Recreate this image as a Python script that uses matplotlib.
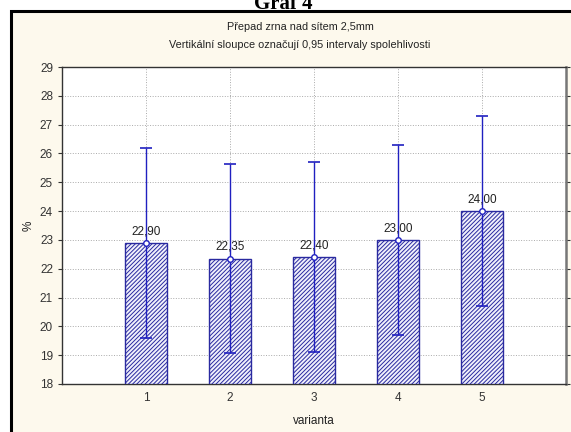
import matplotlib
matplotlib.use("Agg")
import matplotlib.pyplot as plt
from matplotlib.patches import Rectangle
import numpy as np

categories = [1, 2, 3, 4, 5]
means = [22.90, 22.35, 22.40, 23.00, 24.00]
ci_low = [19.6, 19.07, 19.1, 19.7, 20.7]
ci_high = [26.2, 25.65, 25.7, 26.3, 27.3]
yticks = list(range(18, 30))

plt.rcParams['font.family'] = ['Liberation Sans', 'DejaVu Sans']
plt.rcParams['hatch.color'] = '#2a2aa0'
plt.rcParams['hatch.linewidth'] = 0.7

W, H = 571, 432
fig = plt.figure(figsize=(W / 100, H / 100), dpi=100, facecolor='white')

# cream panel with black frame
fig.patches.append(Rectangle((11 / W, -0.1), 1.2, 1 - 11 / H + 0.1, transform=fig.transFigure,
                             facecolor='#fdf9ed', edgecolor='black', linewidth=2.2, zorder=-5))

fig.text(283 / W, 1 - 9 / H, 'Graf 4', ha='center', va='baseline', fontsize=15,
         fontweight='bold', family=['Liberation Serif', 'DejaVu Serif'])
fig.text(300 / W, 1 - 27 / H, 'Přepad zrna nad sítem 2,5mm', ha='center', va='center',
         fontsize=7.8, color='#222222')
fig.text(300 / W, 1 - 45 / H, 'Vertikální sloupce označují 0,95 intervaly spolehlivosti',
         ha='center', va='center', fontsize=7.8, color='#222222')

ax = fig.add_axes([62 / W, 1 - 384 / H, (566 - 62) / W, (384 - 67) / H], zorder=2)
ax.set_facecolor('white')

x = np.array(categories, dtype=float)
m = np.array(means)
ax.bar(x, m - 18, bottom=18, width=0.5, facecolor='#f0f0fb', edgecolor='#2a2aa0',
       hatch='////////', linewidth=1.0, zorder=3)
ax.errorbar(x, m, yerr=[m - np.array(ci_low), np.array(ci_high) - m], fmt='none',
            ecolor='#2020c0', elinewidth=1.0, capsize=4.5, capthick=1.2, zorder=4)
ax.plot(x, m, 'o', ms=4, mfc='white', mec='#2020c0', mew=1.0, zorder=5, ls='none')
for xi, mi in zip(x, m):
    ax.text(xi, mi + 0.2, f'{mi:.2f}'.replace('.', ','), ha='center', va='bottom',
            fontsize=8.5, color='#222222', zorder=6)

ax.set_xlim(0, 6)
ax.set_ylim(18, 29)
ax.set_xticks(categories)
ax.set_yticks(yticks)
ax.tick_params(axis='both', labelsize=8.5, colors='#333333', length=3, width=0.8)
ax.tick_params(axis='y', right=True, direction='out')
ax.tick_params(axis='x', length=0, pad=6)
ax.grid(True, color='#aaaaaa', linestyle=':', linewidth=0.7, zorder=0)
ax.set_axisbelow(True)
for s in ['left', 'bottom', 'top']:
    ax.spines[s].set_color('#333333')
    ax.spines[s].set_linewidth(1.0)
ax.spines['right'].set_color('#777777')
ax.spines['right'].set_linewidth(1.8)
ax.set_xlabel('varianta', fontsize=8.5, color='#222222', labelpad=8)
ax.set_ylabel('%', fontsize=8.5, color='#222222', labelpad=4)

fig.savefig('out.png', dpi=100, facecolor=fig.get_facecolor())
